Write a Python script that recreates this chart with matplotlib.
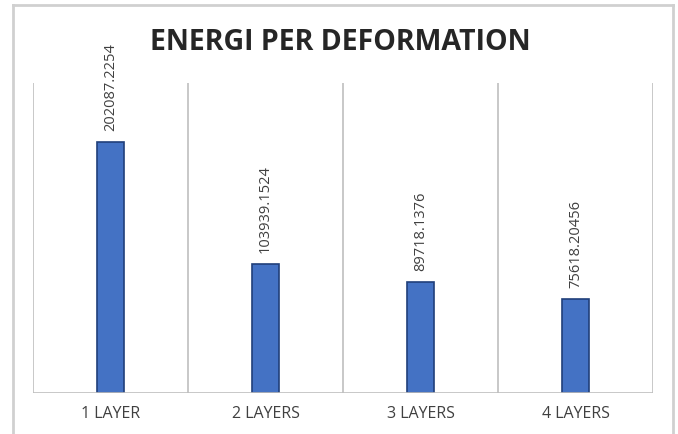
import numpy as np
import matplotlib.pyplot as plt

categories = ["1 LAYER", "2 LAYERS", "3 LAYERS", "4 LAYERS"]
energy = [202087.2254, 103939.1524, 89718.1376, 75618.20456]
value_labels = ["202087.2254", "103939.1524", "89718.1376", "75618.20456"]

W, H = 678, 434
fig = plt.figure(figsize=(W / 100, H / 100), dpi=100)

# chart frame (no bottom edge)
fig.add_artist(plt.Line2D([13 / W, 13 / W], [0, 1 - 5 / H], color="#d0d0d0", lw=2, transform=fig.transFigure))
fig.add_artist(plt.Line2D([13 / W, 673 / W], [1 - 5 / H, 1 - 5 / H], color="#d0d0d0", lw=2, transform=fig.transFigure))
fig.add_artist(plt.Line2D([673 / W, 673 / W], [0, 1 - 5 / H], color="#d0d0d0", lw=2, transform=fig.transFigure))

left, right, top, bottom = 33, 653, 83, 393
ax = fig.add_axes([left / W, 1 - bottom / H, (right - left) / W, (bottom - top) / H])

x = np.arange(len(categories))
ax.bar(x, energy, width=0.18, color="#4472C4", edgecolor="#203F7A", linewidth=1.2, zorder=3)

for xi, v, lab in zip(x, energy, value_labels):
    ax.annotate(lab, (xi, v), xytext=(0, 8), textcoords="offset points",
                rotation=90, ha="center", va="bottom", fontsize=10.5,
                color="#404040", family="Open Sans")

ax.set_xlim(-0.5, len(categories) - 0.5)
ax.set_ylim(0, 250000)

# category separators
for b in np.arange(len(categories) + 1) - 0.5:
    ax.axvline(b, color="#bfbfbf", lw=1.2, zorder=1)

for s in ax.spines.values():
    s.set_visible(False)
ax.axhline(0, color="#bfbfbf", lw=1.2, zorder=4)

ax.set_yticks([])
ax.set_xticks(x)
ax.set_xticklabels(categories, fontsize=11.5, color="#404040", family="Open Sans")
ax.tick_params(axis="x", length=0, pad=9.5)

fig.text(340 / W, 1 - 42 / H, "ENERGI PER DEFORMATION", ha="center", va="center",
         fontsize=20.5, fontweight="bold", color="#262626", family="Open Sans")

fig.savefig("out.png", dpi=100)
